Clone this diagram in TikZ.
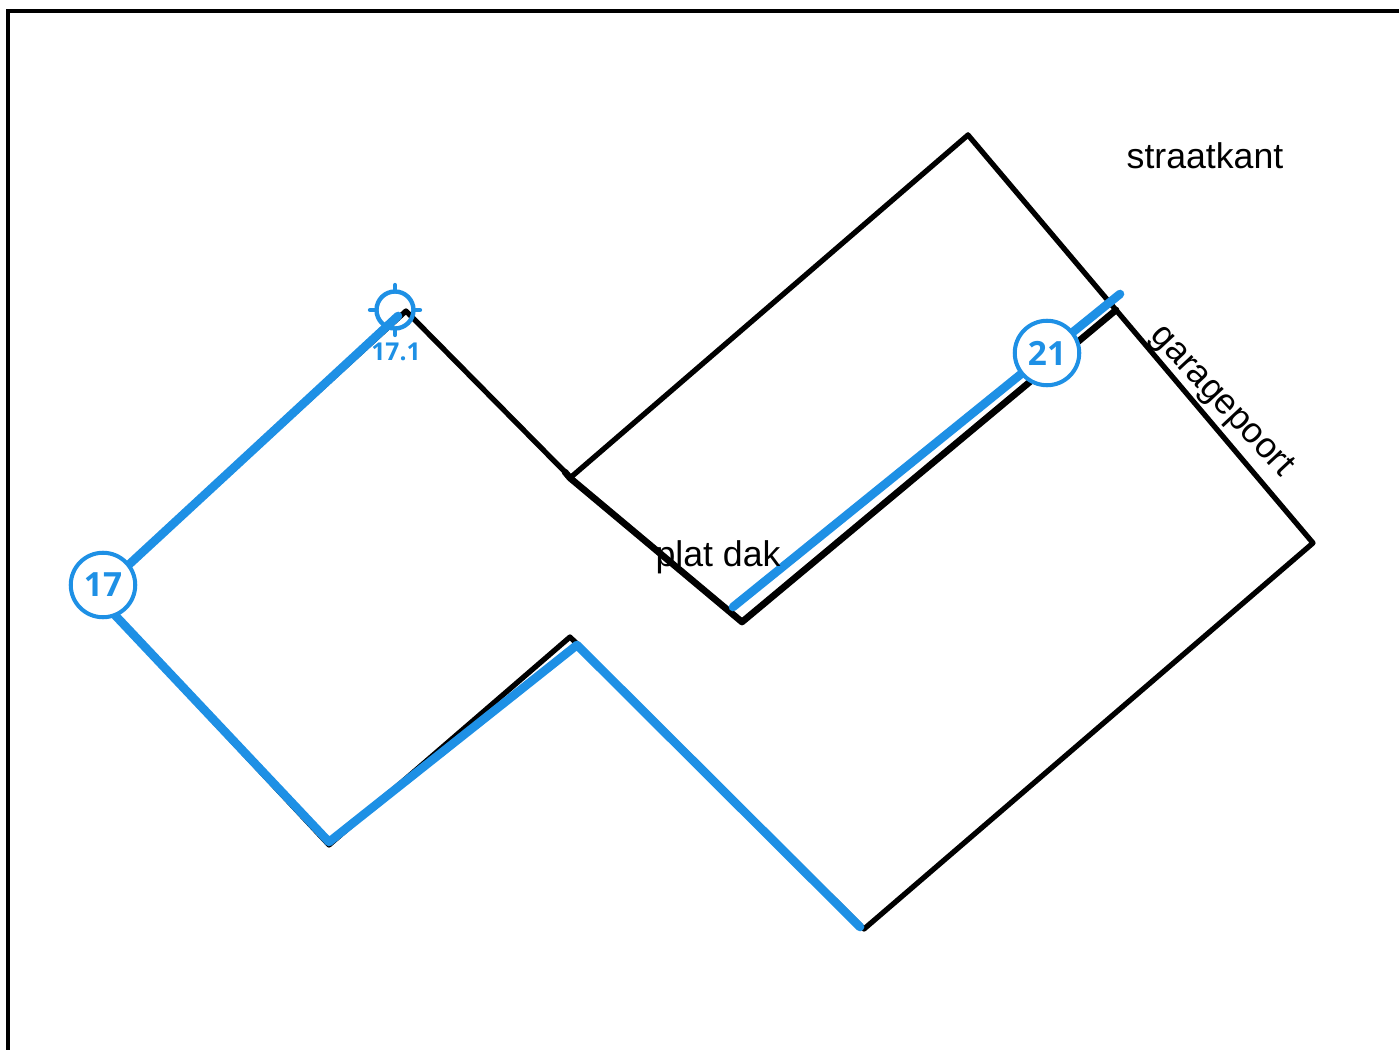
\documentclass[tikz,border=0pt]{standalone}
\usepackage{fontspec}
\setmainfont{Liberation Sans}
\newfontfamily\markfont{Open Sans}
\definecolor{markblue}{RGB}{30, 144, 229}
\tikzset{
  wall/.style={draw=black, line width=3pt, line cap=round, line join=round},
  heavywall/.style={wall, line width=3.8pt},
  trace/.style={draw=markblue, line width=4.9pt, line cap=round, line join=round},
  bubble/.style={circle, draw=markblue, fill=white, line width=2.3pt, minimum size=1.29cm, inner sep=0pt,
                 text=markblue, font=\markfont\bfseries\fontsize{19}{19}\selectfont},
  tag/.style={font=\fontsize{20.3}{24}\selectfont, text=black, inner sep=0pt}
}
\begin{document}
\begin{tikzpicture}[x=0.02cm, y=-0.02cm]
  \useasboundingbox (0,0) rectangle (1399,1050);
  % corner points of the roof outline
  \coordinate (top)    at ( 968, 135);
  \coordinate (gate)   at (1116, 310);
  \coordinate (right)  at (1313, 543);
  \coordinate (bottom) at ( 864, 929);
  \coordinate (notch)  at ( 570, 637);
  \coordinate (foot)   at ( 329, 845);
  \coordinate (left)   at (  96, 595);
  \coordinate (peak)   at ( 406, 311);
  \coordinate (kink)   at ( 565, 472);
  \coordinate (inner)  at ( 570, 478);
  \coordinate (valley) at ( 742, 622);
  % frame
  \draw[line width=1.8pt] (8,1050) -- (8,11) -- (1399,11);
  % outline
  \draw[wall] (top) -- (right) -- (bottom) -- (notch) -- (foot) -- (left) -- (peak) -- (kink);
  \draw[wall] (inner) -- (top);
  \draw[heavywall] (kink) -- (inner) -- (valley) -- (gate);
  % blue measures
  \coordinate (start21) at ( 733, 607);
  \coordinate (end21)   at (1120, 294);
  \coordinate (elbow)   at ( 577, 645);
  \coordinate (end17)   at ( 860, 927);
  \coordinate (end171)  at ( 398, 316);
  \draw[trace] (start21) -- (end21);
  \draw[trace] (end17) -- (elbow) -- (329,842) -- (left) -- (end171);
  % snap point
  \node[circle, draw=markblue, line width=2.5pt, minimum size=0.74cm, inner sep=0pt] (snap) at (395,310) {};
  \draw[markblue, line width=2.8pt, line cap=round]
    (snap.north) -- ++(0,-4) (snap.south) -- ++(0,4) (snap.west) -- ++(-4,0) (snap.east) -- ++(4,0);
  \node[text=markblue, inner sep=0pt, font=\markfont\bfseries\fontsize{14}{14}\selectfont] (snaplabel) at (396,352) {17.1};
  \node[bubble] (b17) at (103,585) {17};
  \node[bubble] (b21) at (1047,353) {21};
  % labels
  \node[tag] (street) at (1205,156) {straatkant};
  \node[tag] (flat)   at (718,557)  {plat dak};
  \node[tag, rotate=-47] (garage) at (1221,402) {garagepoort};
\end{tikzpicture}
\end{document}
